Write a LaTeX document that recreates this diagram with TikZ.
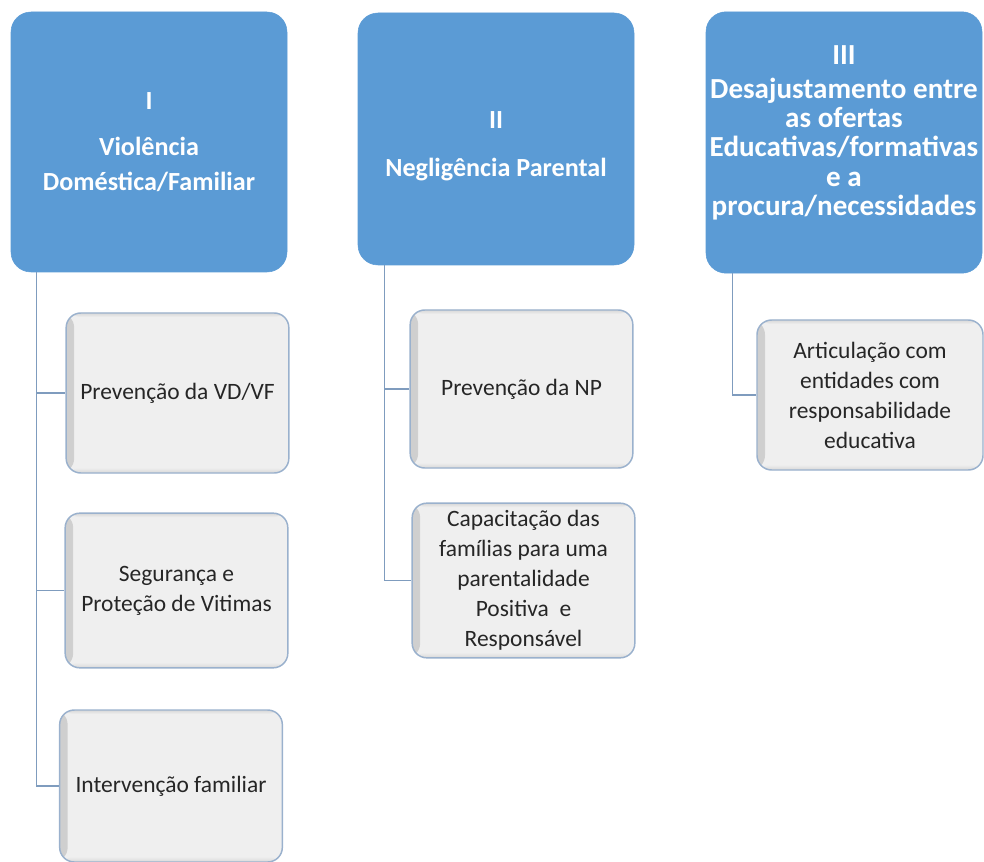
\documentclass[tikz,border=0pt]{standalone}
\usepackage{fontspec}
\setmainfont{Carlito}
\usepackage{tikz}

\definecolor{headblue}{HTML}{5B9BD5}
\definecolor{boxgray}{HTML}{EFEFEF}
\definecolor{boxline}{HTML}{9AB1CD}
\definecolor{linkblue}{HTML}{7F9CBE}

\begin{document}
\begin{tikzpicture}[
    x = 0.75pt, y = -0.75pt,
    H/.style = {rectangle, rounded corners=15pt, fill=headblue, draw=headblue,
                text=white, align=center, inner sep=1pt,
                font=\bfseries\fontsize{19.6}{26}\selectfont},
    T/.style = {align=center, text=white, inner sep=0pt,
                font=\bfseries\fontsize{21.8}{22}\selectfont},
    C/.style = {rectangle, rounded corners=11pt, fill=boxgray, draw=boxline, line width=1.1pt,
                text=black!85, align=center, inner sep=2pt, minimum width=167pt,
                font=\fontsize{17.6}{22.5}\selectfont,
                path picture={
                    \fill[left color=gray!38, right color=boxgray]
                        (path picture bounding box.south west) rectangle
                        ([xshift=6pt]path picture bounding box.north west);
                    \fill[top color=boxgray, bottom color=gray!35, opacity=0.8]
                        ([yshift=4pt]path picture bounding box.south west) rectangle
                        (path picture bounding box.south east);
                    \fill[top color=gray!35, bottom color=boxgray, opacity=0.8]
                        (path picture bounding box.north west) rectangle
                        ([yshift=-3pt]path picture bounding box.north east);
                }},
    link/.style = {draw=linkblue, line width=1.1pt}
    ]
    \useasboundingbox (0,0) rectangle (984,862);
    % headers
    \node[H, minimum width=207pt, minimum height=195pt] (vd) at (149,142)
        {I\\[9pt] Violência\\ Doméstica/Familiar};
    \node[H, minimum width=207pt, minimum height=189pt] (np) at (496,139)
        {\strut\\[-20pt] II\\[10pt] Negligência Parental};
    \node[H, minimum width=207pt, minimum height=196pt] (des) at (844,142.5) {};
    \node[T] (destext) at (844,133)
        {III\\[3pt] Desajustamento entre\\ as ofertas\\ Educativas/formativas\\ e a\\ procura/necessidades};
    % children
    \node[C, minimum height=120pt] (vd1) at (177.5,393) {Prevenção da VD/VF};
    \node[C, minimum height=116pt] (vd2) at (176.5,590.5) {Segurança e\\ Proteção de Vitimas};
    \node[C, minimum height=114pt] (vd3) at (171,786) {Intervenção familiar};
    \node[C, minimum height=118.5pt] (np1) at (521.5,389) {Prevenção da NP};
    \node[C, minimum height=116pt] (np2) at (523.5,580.5)
        {Capacitação das\\ famílias para uma\\ parentalidade\\ Positiva \ e\\ Responsável};
    \node[C, minimum width=169.5pt, minimum height=112.5pt] (des1) at (870,395)
        {Articulação com\\ entidades com\\ responsabilidade\\ educativa};
    % connectors
    \begin{scope}[link]
        \draw (vd.south west) ++(26,0) |- (vd1.west);
        \draw (vd.south west) ++(26,0) |- (vd2.west);
        \draw (vd.south west) ++(26,0) |- (vd3.west);
        \draw (np.south west) ++(27,0) |- (np1.west);
        \draw (np.south west) ++(27,0) |- (np2.west);
        \draw (des.south west) ++(27,0) |- (des1.west);
    \end{scope}
\end{tikzpicture}
\end{document}
